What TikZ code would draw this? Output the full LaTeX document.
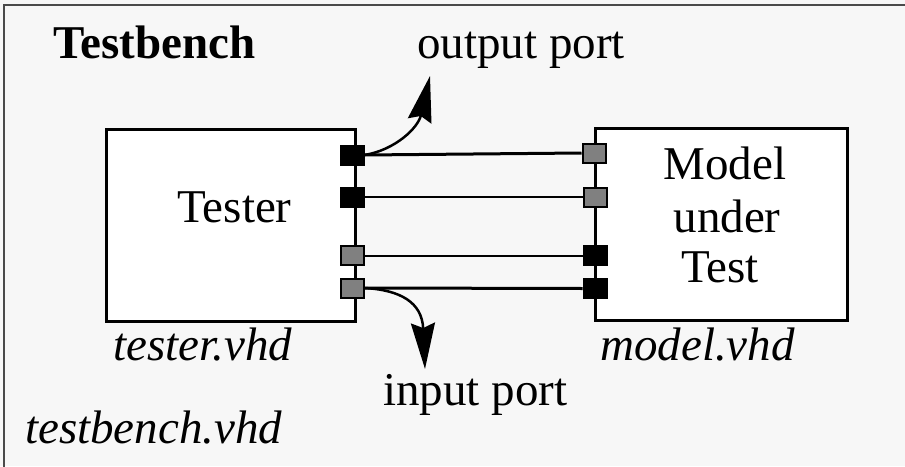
\documentclass[tikz,border=0pt]{standalone}
\usepackage{fontspec}
\setmainfont{Liberation Serif}
\usetikzlibrary{arrows.meta}
\definecolor{bg}{HTML}{F7F7F7}
\definecolor{frame}{HTML}{4A4A4A}
\definecolor{portgrey}{HTML}{808080}
\begin{document}
\begin{tikzpicture}[x=1pt,y=-1pt,
  big/.style={font=\fontsize{47pt}{52pt}\selectfont, inner sep=0pt},
  block/.style={draw=black, line width=3pt, fill=white, inner sep=0pt},
  blackport/.style={draw=black, line width=2pt, fill=black, minimum width=23pt, minimum height=19pt, inner sep=0pt},
  greyport/.style={draw=black, line width=2pt, fill=portgrey, minimum width=23pt, minimum height=19pt, inner sep=0pt},
  thickwire/.style={line width=3pt},
  thinwire/.style={line width=2pt},
  portarrow/.style={line width=2.5pt, -{Stealth[length=46pt,width=24pt,inset=5pt]}}]
\useasboundingbox (0,0) rectangle (905,466);
\fill[bg] (0,0) rectangle (905,466);
\draw[frame, line width=2.5pt] (4,470) -- (4,5) -- (910,5);
% blocks
\node[block, minimum width=249pt, minimum height=192pt] (tester) at (230.5,225) {};
\node[block, minimum width=252pt, minimum height=192pt] (model) at (721,224) {};
% ports
\node[blackport] (tp1) at (352,155) {};
\node[blackport] (tp2) at (352,197) {};
\node[greyport]  (tp3) at (352,255.5) {};
\node[greyport]  (tp4) at (352,288) {};
\node[greyport]  (mp1) at (594,153) {};
\node[greyport]  (mp2) at (595,197) {};
\node[blackport] (mp3) at (595,255.5) {};
\node[blackport] (mp4) at (595,288.5) {};
% wires
\draw[thickwire] (tp1.east) -- (mp1.west);
\draw[thinwire]  (tp2.east) -- (mp2.west);
\draw[thinwire]  (tp3.east) -- (mp3.west);
\draw[thickwire] (tp4.east) -- (mp4.west);
% arrows
\coordinate (otip) at (430,76);
\coordinate (itip) at (425,369);
\draw[portarrow] (tp1.east) .. controls (395,150) and (418,128) .. (otip);
\draw[portarrow] (tp4.east) .. controls (400,290) and (422,302) .. (itip);
% labels
\node[big, anchor=base west, font=\fontsize{47pt}{52pt}\selectfont\bfseries] (tbtitle) at (53,58) {Testbench};
\node[big, anchor=base west] (outlbl) at (417,58) {output port};
\node[big, anchor=base] (testerlbl) at (234.5,222) {Tester};
\node[big, anchor=base] (mod1) at (725,179) {Model};
\node[big, anchor=base] (mod2) at (727,232) {under};
\node[big, anchor=base] (mod3) at (720,282) {Test};
\node[big, anchor=base west, font=\fontsize{47pt}{52pt}\selectfont\itshape] (testerfile) at (113,360) {tester.vhd};
\node[big, anchor=base west, font=\fontsize{47pt}{52pt}\selectfont\itshape] (modelfile) at (600,360) {model.vhd};
\node[big, anchor=base west] (inlbl) at (383,405) {input port};
\node[big, anchor=base west, font=\fontsize{47pt}{52pt}\selectfont\itshape] (tbfile) at (25,443) {testbench.vhd};
\end{tikzpicture}
\end{document}
